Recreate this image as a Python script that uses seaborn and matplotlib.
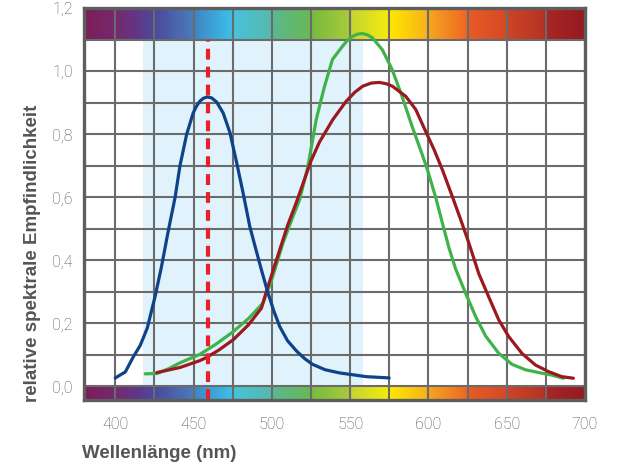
import numpy as np
import pandas as pd
import matplotlib
matplotlib.use("Agg")
import matplotlib.pyplot as plt
from matplotlib.colors import LinearSegmentedColormap
import seaborn as sns

# Daten
blau_nm = [400.0, 406.4, 411.5, 415.9, 420.4, 425.4, 429.5, 433.7, 438.2, 441.3, 445.6, 449.8,
           452.0, 454.1, 456.4, 458.7, 461.5, 464.7, 468.9, 473.2, 477.4, 481.6, 485.9, 489.5,
           493.3, 497.3, 501.2, 505.0, 510.0, 515.8, 521.0, 526.0, 534.0, 543.1, 560.3, 574.9]
blau_wert = [0.027, 0.046, 0.094, 0.130, 0.185, 0.285, 0.380, 0.490, 0.600, 0.700, 0.800, 0.868,
             0.890, 0.905, 0.914, 0.918, 0.915, 0.902, 0.867, 0.805, 0.712, 0.614, 0.507, 0.440,
             0.370, 0.300, 0.240, 0.190, 0.145, 0.112, 0.088, 0.070, 0.053, 0.043, 0.031, 0.027]

gruen_nm = [419.1, 426.7, 434.0, 441.3, 447.5, 454.1, 464.0, 475.1, 485.0, 494.3, 499.7, 507.1,
            512.4, 517.7, 523.0, 528.3, 533.6, 538.7, 545.0, 548.2, 551.4, 554.6, 557.8, 561.0,
            564.1, 570.5, 576.8, 583.2, 589.6, 595.7, 599.5, 604.6, 608.8, 613.1, 617.4, 623.7,
            630.1, 636.5, 644.9, 653.4, 661.9, 670.4, 678.8, 686.3]
gruen_wert = [0.040, 0.041, 0.056, 0.075, 0.088, 0.102, 0.133, 0.173, 0.215, 0.264, 0.335, 0.455,
              0.525, 0.592, 0.697, 0.846, 0.951, 1.037, 1.078, 1.097, 1.110, 1.117, 1.119, 1.115,
              1.106, 1.068, 1.005, 0.919, 0.824, 0.740, 0.685, 0.600, 0.520, 0.440, 0.372, 0.296,
              0.222, 0.160, 0.105, 0.070, 0.053, 0.044, 0.036, 0.026]

rot_nm = [426.5, 441.3, 454.1, 458.3, 466.0, 475.3, 485.0, 493.3, 496.5, 505.0, 510.0, 515.0,
          520.0, 525.0, 530.4, 538.9, 547.4, 553.0, 558.0, 563.5, 568.6, 573.0, 577.0, 585.5,
          591.9, 598.3, 603.6, 608.9, 615.2, 620.6, 625.8, 632.2, 638.5, 644.9, 651.3, 659.7,
          668.3, 676.7, 685.2, 692.6]
rot_wert = [0.044, 0.060, 0.082, 0.092, 0.115, 0.148, 0.195, 0.248, 0.301, 0.433, 0.510, 0.575,
            0.645, 0.715, 0.775, 0.846, 0.904, 0.933, 0.952, 0.962, 0.964, 0.960, 0.952, 0.920,
            0.878, 0.808, 0.751, 0.687, 0.603, 0.529, 0.455, 0.357, 0.284, 0.211, 0.158, 0.105,
            0.068, 0.047, 0.031, 0.026]

led_peak_nm = 459
bereich_nm = (418, 558)

x_ticks = [400, 450, 500, 550, 600, 650, 700]
y_ticks = [0.0, 0.2, 0.4, 0.6, 0.8, 1.0, 1.2]
y_tick_labels = ["0,0", "0,2", "0,4", "0,6", "0,8", "1,0", "1,2"]

# Farbverlauf Spektrum
spek_nm = [380, 400, 412, 425, 449, 451, 474, 476, 499, 501, 524, 526, 549, 551, 574, 576,
           599, 601, 624, 626, 649, 651, 674, 676, 700]
spek_farbe = ["#7d1d5a", "#742a6c", "#643585", "#4a4a9c", "#4a7bbb", "#3e88c6", "#3cbfe8",
              "#47c3d9", "#57b9ad", "#5bb88e", "#69b856", "#78bc3d", "#a9c93a", "#c5d532",
              "#f5ea0e", "#ffe600", "#f8b41a", "#f6a41f", "#ee6b22", "#e85b24", "#d64b26",
              "#cd4426", "#b63424", "#aa2624", "#941a22"]

sns.set_theme(style="white")
plt.rcParams['font.family'] = ['Liberation Sans', 'DejaVu Sans']

x_lo, x_hi = 380, 700
y_lo, y_hi = -0.043, 1.2

fig = plt.figure(figsize=(6.18, 4.68), dpi=100)
ax = fig.add_axes([84 / 618, (468 - 400) / 468, (585 - 84) / 618, (400 - 8) / 468])

pos = [(v - x_lo) / (x_hi - x_lo) for v in spek_nm]
cmap = LinearSegmentedColormap.from_list("spektrum", list(zip(pos, spek_farbe)))
grad = np.linspace(0, 1, 800).reshape(1, -1)
ax.imshow(grad, extent=[x_lo, x_hi, 1.1, y_hi], aspect='auto', cmap=cmap, zorder=0.2)
ax.imshow(grad, extent=[x_lo, x_hi, y_lo, 0.0], aspect='auto', cmap=cmap, zorder=0.2)

ax.fill_between(bereich_nm, 0, 1.1, color="#e0f2fb", lw=0, zorder=0.3)

ax.vlines(led_peak_nm, y_lo, 1.1, color="#e8202a", lw=3, linestyles=(0, (2.6, 1.7)), zorder=4)

kurven = [
    (gruen_nm, gruen_wert, "#3fb34a"),
    (rot_nm, rot_wert, "#9a1a20"),
    (blau_nm, blau_wert, "#0f4289"),
]
for nm, wert, farbe in kurven:
    df = pd.DataFrame({"nm": nm, "wert": wert})
    sns.lineplot(data=df, x="nm", y="wert", color=farbe, lw=2.3, ax=ax, sort=False,
                 estimator=None, zorder=3, solid_joinstyle='round', solid_capstyle='round')

ax.set_xlim(x_lo, x_hi)
ax.set_ylim(y_lo, y_hi)
ax.set_xticks(x_ticks)
ax.set_xticks(np.arange(400, 700, 25), minor=True)
ax.set_yticks(y_ticks)
ax.set_yticklabels(y_tick_labels)
ax.set_yticks(np.arange(0.1, 1.15, 0.2), minor=True)
ax.set_axisbelow(True)
ax.grid(True, which='both', color="#6b6b6b", lw=1.5)

ax.tick_params(which='both', length=0)
ax.tick_params(axis='x', pad=12, labelsize=11.5, labelcolor="#4f4f4f")
ax.tick_params(axis='y', pad=8, labelsize=11.5, labelcolor="#4f4f4f")
for lab in ax.get_xticklabels() + ax.get_yticklabels():
    lab.set_fontfamily(['Roboto', 'DejaVu Sans'])
    lab.set_fontweight('light')

for s in ax.spines.values():
    s.set_color("#5e5e5e")
    s.set_linewidth(2.4)
    s.set_zorder(5)

ax.set_xlabel("")
ax.set_ylabel("")
fig.text(82 / 618, 1 - 453 / 468, "Wellenlänge (nm)", ha='left', va='center',
         fontsize=13.5, fontweight='bold', color="#555555")
fig.text(33 / 618, 1 - 402 / 468, "relative spektrale Empfindlichkeit", rotation=90,
         ha='center', va='bottom', fontsize=13.5, fontweight='bold', color="#555555")

fig.savefig("out.png", dpi=100)
